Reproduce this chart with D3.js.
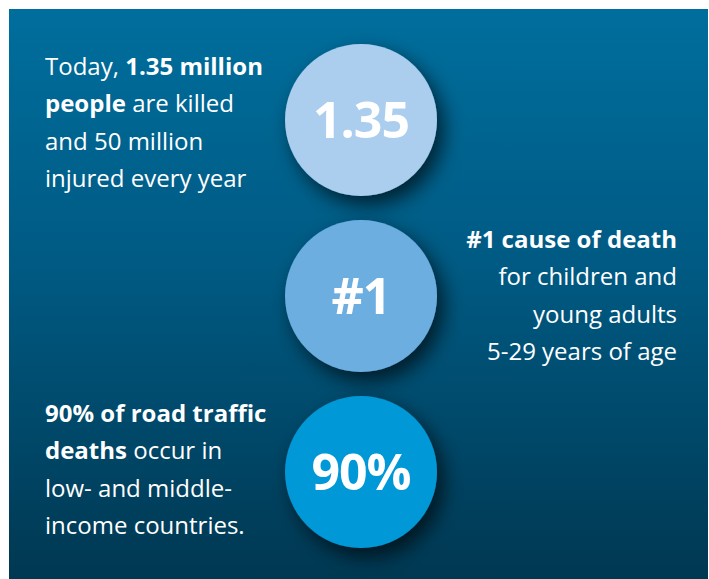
<!DOCTYPE html>
<html>
<head>
<meta charset="utf-8">
<script src="https://cdn.jsdelivr.net/npm/d3@7"></script>
<style>
  body { margin: 0; background: #fff; }
  svg { display: block; }
  text { font-family: "Open Sans", sans-serif; fill: #fff; }
</style>
</head>
<body>
<svg width="709" height="579"></svg>
<script>
// stat bubbles
const stats = ["1.35", "#1", "90%"];
const bubbleColors = ["#abcdee", "#6daee0", "#0098d6"];

// text blocks: each line is a list of [text, bold]
const blockToday = [
    [["Today, ", false], ["1.35 million", true]],
    [["people", true], [" are killed", false]],
    [["and 50 million", false]],
    [["injured every year", false]],
];
const blockCause = [
    [["#1 cause of death", true]],
    [["for children and", false]],
    [["young adults", false]],
    [["5-29 years of age", false]],
];
const blockIncome = [
    [["90% of road traffic", true]],
    [["deaths", true], [" occur in", false]],
    [["low- and middle-", false]],
    [["income countries.", false]],
];

const W = 709, H = 579;
const svg = d3.select("svg");

const defs = svg.append("defs");
const grad = defs.append("linearGradient")
    .attr("id", "bg")
    .attr("x1", 0).attr("y1", 0).attr("x2", 0).attr("y2", 1);
grad.append("stop").attr("offset", "0%").attr("stop-color", "#006e9d");
grad.append("stop").attr("offset", "45%").attr("stop-color", "#005a83");
grad.append("stop").attr("offset", "100%").attr("stop-color", "#003852");

const shadow = defs.append("filter")
    .attr("id", "shadow")
    .attr("x", "-30%").attr("y", "-30%").attr("width", "170%").attr("height", "170%");
shadow.append("feDropShadow")
    .attr("dx", 7).attr("dy", 9)
    .attr("stdDeviation", 10)
    .attr("flood-color", "#000")
    .attr("flood-opacity", 0.65);

svg.append("rect")
    .attr("x", 9).attr("y", 9)
    .attr("width", W - 10).attr("height", H - 9)
    .attr("fill", "url(#bg)");

// bubbles stacked down the middle
const yBubble = d3.scalePoint()
    .domain(stats)
    .range([120, 472]);
const cx = 361, r = 76;

const bubbles = svg.selectAll(".bubble")
    .data(stats)
    .enter()
    .append("g")
    .classed("bubble", true)
    .attr("transform", d => `translate(${cx},${yBubble(d)})`);

bubbles.append("circle")
    .attr("r", r)
    .attr("fill", (d, i) => bubbleColors[i])
    .attr("filter", "url(#shadow)");

bubbles.append("text")
    .attr("text-anchor", "middle")
    .attr("y", 18)
    .style("font-size", "50px")
    .style("font-weight", 700)
    .style("letter-spacing", "-1px")
    .text(d => d);

// text blocks
const lineStep = 37.3;
function drawBlock(lines, x, y0, anchor) {
    const yLine = d3.scaleLinear().domain([0, 1]).range([y0, y0 + lineStep]);
    const t = svg.append("text")
        .attr("text-anchor", anchor)
        .style("font-size", "24px");
    lines.forEach((segs, i) => {
        segs.forEach((s, j) => {
            const ts = t.append("tspan")
                .style("font-weight", s[1] ? 700 : 400)
                .text(s[0]);
            if (j === 0) ts.attr("x", x).attr("y", yLine(i));
        });
    });
}

drawBlock(blockToday, 45, 75, "start");
drawBlock(blockCause, 677, 248, "end");
drawBlock(blockIncome, 45, 422, "start");
</script>
</body>
</html>
